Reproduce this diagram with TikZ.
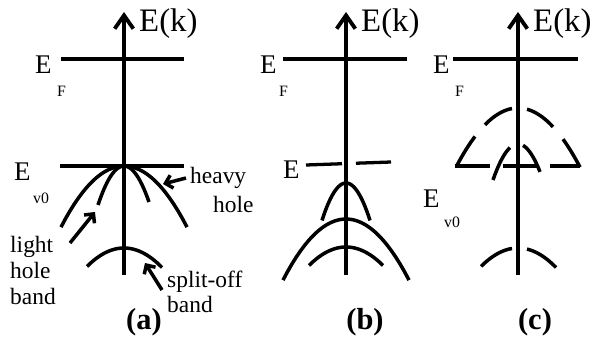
\documentclass[tikz,border=0pt]{standalone}
\usepackage{fontspec}
\setmainfont{Liberation Serif}
\usetikzlibrary{arrows.meta}

% one piece of a band: axis x, apex y, curvature, from dx, to dx
\newcommand\bandarc[6][]{\draw[band,#1,domain=#5:#6,samples=30] plot ({#2+\x},{#3+#4*\x*\x});}

\begin{document}
\begin{tikzpicture}[x=0.03cm, y=-0.03cm,
    axis/.style={line width=3.3pt, -{Straight Barb[length=0.4cm,width=0.56cm]}},
    level/.style={line width=2.8pt},
    band/.style={line width=3pt},
    pointer/.style={line width=3pt, -{Straight Barb[length=0.2cm,width=0.4cm]}},
    elabel/.style={inner sep=0pt, anchor=base west, font=\fontsize{23}{26}\selectfont},
    sublabel/.style={inner sep=0pt, anchor=base west, font=\fontsize{13.5}{15}\selectfont},
    axlabel/.style={inner sep=0pt, anchor=base west, font=\fontsize{28}{32}\selectfont},
    note/.style={inner sep=0pt, anchor=base west, align=left, font=\fontsize{20}{22}\selectfont},
    panel/.style={inner sep=0pt, anchor=base, font=\fontsize{26}{30}\selectfont\bfseries}
  ]
  \useasboundingbox (0,0) rectangle (592,341);

  % (a) unstrained
  \begin{scope}[shift={(124,0)}]
    \coordinate (aBot) at (0,275);
    \coordinate (aTop) at (0,12);
    \draw[axis] (aBot) -- (aTop);
    \node (aEk) [axlabel] at (15,32) {E(k)};
    \coordinate (aFl) at (-63,59);
    \coordinate (aFr) at (60,59);
    \draw[level] (aFl) -- (aFr);
    \node (aEF) [elabel] at (-89,74) {E};
    \node (aEFsub) [sublabel] at (-67,97) {F};
    \coordinate (aVl) at (-64,166);
    \coordinate (aVr) at (60,166);
    \draw[level] (aVl) -- (aVr);
    \node (aEV) [elabel] at (-110,180) {E};
    \node (aEVsub) [sublabel] at (-91,203) {v0};
    \bandarc{0}{166}{0.0154}{-63}{63}
    \bandarc{0}{166}{0.0576}{-26}{25}
    \bandarc{0}{248}{0.0135}{-37}{38}
    % base of a two-line note is its last line
    \node (heavy) [note, font=\fontsize{20}{24.5}\selectfont] at (66,212) {heavy\\\hspace*{0.69cm}hole};
    \node (light) [note] at (-114,304) {light\\hole\\band};
    \node (split) [note, font=\fontsize{20}{21.3}\selectfont] at (43,312) {split-off\\band};
    \coordinate (heavyTail) at (62,178);
    \coordinate (heavyTip) at (39,184);
    \coordinate (lightTail) at (-54,243);
    \coordinate (lightTip) at (-29,212);
    \coordinate (splitTail) at (38,290);
    \coordinate (splitTip) at (21,263);
    \draw[pointer] (heavyTail) -- (heavyTip);
    \draw[pointer] (lightTail) -- (lightTip);
    \draw[pointer] (splitTail) -- (splitTip);
    \node (aName) [panel] at (20,329) {(a)};
  \end{scope}

  % (b)
  \begin{scope}[shift={(346,0)}]
    \coordinate (bBot) at (0,275);
    \coordinate (bTop) at (0,12);
    \draw[axis] (bBot) -- (bTop);
    \node (bEk) [axlabel] at (15,32) {E(k)};
    \coordinate (bFl) at (-63,59);
    \coordinate (bFr) at (61,59);
    \draw[level] (bFl) -- (bFr);
    \node (bEF) [elabel] at (-86,74) {E};
    \node (bEFsub) [sublabel] at (-67,97) {F};
    \coordinate (bVl) at (-40,165);
    \coordinate (bVr) at (45,162);
    \draw[level, dash pattern=on 1.08cm off 0.42cm] (bVl) -- (bVr);
    \node (bEV) [elabel] at (-63,178) {E};
    \bandarc{0}{183}{0.065}{-24}{24}
    \bandarc{0}{219}{0.0154}{-63}{63}
    \bandarc{0}{247}{0.0135}{-37}{37}
    \node (bName) [panel] at (19,329) {(b)};
  \end{scope}

  % (c)
  \begin{scope}[shift={(518,0)}]
    \coordinate (cBot) at (0,275);
    \coordinate (cTop) at (0,12);
    \draw[axis] (cBot) -- (cTop);
    \node (cEk) [axlabel] at (15,32) {E(k)};
    \coordinate (cFl) at (-65,59);
    \coordinate (cFr) at (60,59);
    \draw[level] (cFl) -- (cFr);
    \node (cEF) [elabel] at (-85,74) {E};
    \node (cEFsub) [sublabel] at (-63,97) {F};
    \coordinate (cVl) at (-63,166);
    \coordinate (cVr) at (62,166);
    \draw[level, dash pattern=on 1.05cm off 0.38cm] (cVl) -- (cVr);
    \node (cEV) [elabel] at (-95,207) {E};
    \node (cEVsub) [sublabel] at (-74,227) {v0};
    \bandarc{0}{108}{0.0154}{-61}{-43}
    \bandarc{0}{108}{0.0154}{-33}{-6}
    \bandarc{0}{108}{0.0154}{9}{35}
    \bandarc{0}{108}{0.0154}{45}{62}
    \bandarc{0}{144}{0.0576}{-25}{-8}
    \bandarc{0}{144}{0.0576}{5}{22}
    \bandarc{0}{248}{0.0135}{-37}{-6}
    \bandarc{0}{248}{0.0135}{9}{38}
    \node (cName) [panel] at (17,329) {(c)};
  \end{scope}
\end{tikzpicture}
\end{document}
